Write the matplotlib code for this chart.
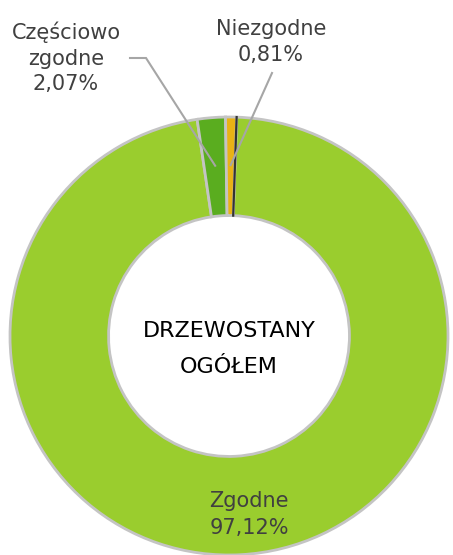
import numpy as np
import matplotlib.pyplot as plt

labels = ["Zgodne", "Częściowo\nzgodne", "Niezgodne"]
shares = [97.12, 2.07, 0.81]
share_txt = ["97,12%", "2,07%", "0,81%"]
colors = ["#9acd2e", "#5aad1f", "#e9b215"]

W, H = 453, 555
fig = plt.figure(figsize=(W / 100, H / 100), dpi=100)
ax = fig.add_axes([0, 0, 1, 1])

cx, cy, R = 229, H - 336, 219
ring = 0.45

wedges, _ = ax.pie(shares, colors=colors, startangle=88, counterclock=False,
                   radius=R, center=(cx, cy),
                   wedgeprops=dict(width=R * ring, edgecolor="#c4c4c4", linewidth=2))

# dark rim on the right side of the small orange slice
a_edge = np.deg2rad(wedges[2].theta1)
ax.plot([cx + R * (1 - ring) * np.cos(a_edge), cx + R * np.cos(a_edge)],
        [cy + R * (1 - ring) * np.sin(a_edge), cy + R * np.sin(a_edge)],
        color="#333333", lw=1.6)

# pie() resets the limits, so set them afterwards
ax.set_xlim(0, W)
ax.set_ylim(0, H)
ax.set_aspect("auto")
ax.axis("off")

txt_col = "#404040"
line_col = "#a6a6a6"

# Zgodne label inside the ring
w = wedges[0]
ang = np.deg2rad((w.theta1 + w.theta2) / 2)
rr = R * (1 - ring / 2) + 9
ax.text(cx + rr * np.cos(ang) + 10, cy + rr * np.sin(ang),
        labels[0] + "\n" + share_txt[0], ha="center", va="center",
        fontsize=15, color=txt_col, linespacing=1.4)


def mid_point(wd, r):
    a = np.deg2rad((wd.theta1 + wd.theta2) / 2)
    return cx + r * np.cos(a), cy + r * np.sin(a)


# Częściowo zgodne - label on the left with bent leader
x1, y1 = mid_point(wedges[1], R * 0.78)
ax.text(66, H - 58, labels[1] + "\n" + share_txt[1], ha="center", va="center",
        fontsize=15, color=txt_col, linespacing=1.35)
ax.plot([130, 146, x1], [H - 58, H - 58, y1], color=line_col, lw=1.5,
        solid_joinstyle="miter")

# Niezgodne - label above
x2, y2 = mid_point(wedges[2], R * 0.78)
ax.text(271, H - 42, labels[2] + "\n" + share_txt[2], ha="center", va="center",
        fontsize=15, color=txt_col, linespacing=1.4)
ax.plot([272, x2], [H - 73, y2], color=line_col, lw=1.5)

ax.text(cx, cy - 13, "DRZEWOSTANY\nOGÓŁEM", ha="center", va="center",
        fontsize=16, color="black", linespacing=1.95)

fig.savefig("out.png", dpi=100)
